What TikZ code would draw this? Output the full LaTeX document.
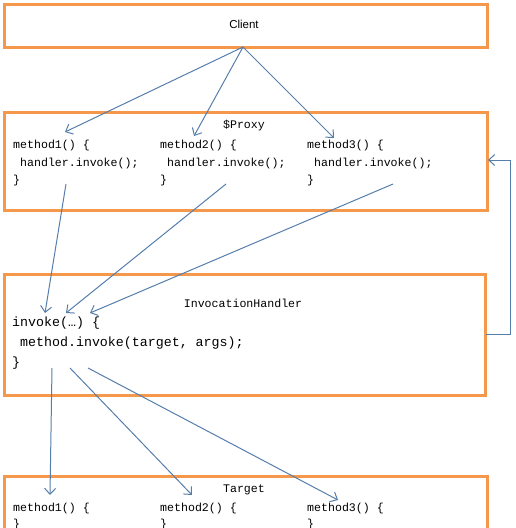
\documentclass[tikz,border=0pt]{standalone}
\usepackage{fontspec}
\setmainfont{Liberation Sans}
\newfontfamily\codefont{Liberation Mono}
\usetikzlibrary{arrows.meta}
\definecolor{boxorange}{RGB}{245,152,75}
\definecolor{arrowblue}{RGB}{86,126,172}
\begin{document}
\begin{tikzpicture}[x=1pt,y=-1pt,
  box/.style={draw=boxorange, line width=2.6pt, fill=white, inner sep=0pt, anchor=north west},
  code/.style={font=\codefont\fontsize{11.6}{13}\selectfont, inner sep=0pt, anchor=west},
  bigcode/.style={font=\codefont\fontsize{13.3}{15}\selectfont, inner sep=0pt, anchor=west},
  title/.style={font=\codefont\fontsize{11.6}{13}\selectfont, inner sep=0pt},
  conn/.style={draw=arrowblue, line width=1pt, -{Straight Barb[length=6pt,width=11pt,line width=1pt]}}]
\useasboundingbox (0,0) rectangle (515,528);
% boxes
\node[box, minimum width=483pt, minimum height=43pt] (clientbox) at (3,3) {};
\node[font=\fontsize{11.5}{13}\selectfont, inner sep=0pt] (client) at (244,24) {Client};
\node[box, minimum width=483pt, minimum height=98pt] (proxybox) at (3,111) {};
\node[box, minimum width=481pt, minimum height=121pt] (handlerbox) at (3,273) {};
\node[box, minimum width=483pt, minimum height=80pt] (targetbox) at (3,475) {};
% proxy texts
\node[title] (proxyt) at (244,126) {\$Proxy};
\node[code] (p1a) at (13,145) {method1() \{};
\node[code] (p1b) at (13,163) {~handler.invoke();};
\node[code] (p1c) at (13,180) {\}};
\node[code] (p2a) at (160,145) {method2() \{};
\node[code] (p2b) at (160,163) {~handler.invoke();};
\node[code] (p2c) at (160,180) {\}};
\node[code] (p3a) at (307,145) {method3() \{};
\node[code] (p3b) at (307,163) {~handler.invoke();};
\node[code] (p3c) at (307,180) {\}};
% handler texts
\node[title] (handlert) at (243,303) {InvocationHandler};
\node[bigcode] (h1) at (12,323) {invoke(…) \{};
\node[bigcode] (h2) at (12,343) {~method.invoke(target, args);};
\node[bigcode] (h3) at (12,363) {\}};
% target texts
\node[title] (targett) at (244,490) {Target};
\node[code] (t1a) at (13,508) {method1() \{};
\node[code] (t1b) at (13,524) {\}};
\node[code] (t2a) at (160,508) {method2() \{};
\node[code] (t2b) at (160,524) {\}};
\node[code] (t3a) at (307,508) {method3() \{};
\node[code] (t3b) at (307,524) {\}};
% connector points
\coordinate (cs) at (243,47);
\coordinate (pe1) at (65,132);
\coordinate (pe2) at (194,136);
\coordinate (pe3) at (334,138);
\coordinate (ps1) at (66,184);
\coordinate (ps2) at (226,184);
\coordinate (ps3) at (393,184);
\coordinate (he1) at (45,313);
\coordinate (he2) at (66,313);
\coordinate (he3) at (90,313);
\coordinate (hs1) at (52,368);
\coordinate (hs2) at (70,368);
\coordinate (hs3) at (88,368);
\coordinate (te1) at (50,495);
\coordinate (te2) at (192,495);
\coordinate (te3) at (338,500);
\coordinate (fbs) at (486,334);
\coordinate (fbe) at (488,160);
% connectors
\draw[conn] (cs) -- (pe1);
\draw[conn] (cs) -- (pe2);
\draw[conn] (cs) -- (pe3);
\draw[conn] (ps1) -- (he1);
\draw[conn] (ps2) -- (he2);
\draw[conn] (ps3) -- (he3);
\draw[conn] (hs1) -- (te1);
\draw[conn] (hs2) -- (te2);
\draw[conn] (hs3) -- (te3);
\draw[conn] (fbs) -- (510,334) -- (510,160) -- (fbe);
\end{tikzpicture}
\end{document}
